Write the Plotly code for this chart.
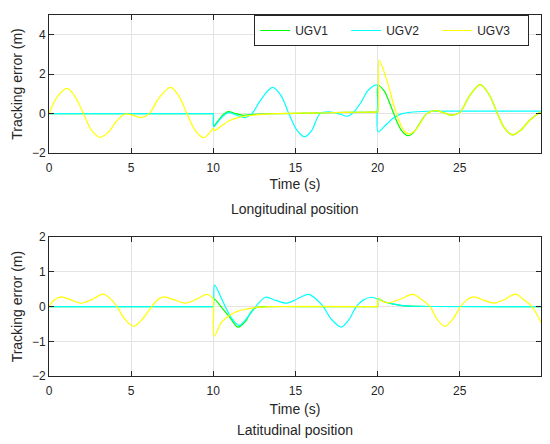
import plotly.graph_objects as go
from plotly.subplots import make_subplots

# --- longitudinal tracking error (top panel) ---
lon_t_ugv1 = [0, 5, 9.95, 10.0, 10.03, 10.3, 10.6, 10.9, 11.3, 11.8, 12.3, 12.8, 14, 16, 18,
              19.9, 20.0, 20.03, 20.4, 20.8, 21.2, 21.5, 21.85, 22.2, 22.6, 23.0, 23.55, 24.0,
              24.5, 25.0, 25.6, 26.25, 26.8, 27.3, 27.7, 28.2, 28.7, 29.3, 29.95]
lon_e_ugv1 = [0, 0, 0, 0, -0.62, -0.35, -0.05, 0.1, 0.02, -0.08, -0.05, -0.02, 0.0, 0.03, 0.06,
              0.08, 0.08, 1.42, 1.15, 0.4, -0.45, -0.9, -1.12, -0.95, -0.45, 0.0, 0.15, 0.05,
              -0.08, 0.05, 0.9, 1.47, 0.95, 0.0, -0.7, -1.08, -0.85, -0.3, 0.1]

lon_t_ugv2 = [0, 5, 9.95, 10.0, 10.03, 10.3, 10.6, 10.95, 11.4, 11.95, 12.4, 12.85, 13.6, 14.1,
              14.6, 15.1, 15.56, 16.0, 16.5, 17.2, 17.7, 18.2, 18.6, 19.0, 19.4, 19.9,
              20.0, 20.03, 20.5, 21.0, 21.5, 22.0, 23.0, 25.0, 29.95]
lon_e_ugv2 = [0, 0, 0, 0, -0.67, -0.4, -0.12, 0.05, -0.08, -0.2, 0.05, 0.65, 1.33, 0.95,
              0.0, -0.85, -1.17, -0.85, 0.0, 0.08, -0.02, -0.13, 0.12, 0.58, 1.15, 1.46,
              1.44, -0.92, -0.58, -0.2, 0.0, 0.07, 0.12, 0.13, 0.13]

lon_t_ugv3 = [0, 0.5, 1.1, 1.6, 2.1, 2.6, 3.1, 3.6, 4.1, 4.6, 5.0, 5.6, 6.1, 6.7, 7.4,
              7.9, 8.4, 8.9, 9.4, 9.8, 10.0, 10.08, 10.5, 11.0, 11.5, 12.0, 13.0, 14.0,
              16.0, 18.0, 19.9, 20.0, 20.1, 20.6, 21.0, 21.3, 21.6, 21.9, 22.3, 22.7, 23.0,
              23.55, 24.0, 24.5, 25.0, 25.6, 26.25, 26.8, 27.3, 27.7, 28.2, 28.7, 29.3,
              29.95]
lon_e_ugv3 = [0, 0.85, 1.28, 0.85, 0.0, -0.85, -1.2, -0.95, -0.4, -0.02, -0.05, -0.2, 0.0,
              0.8, 1.33, 0.9, 0.0, -0.85, -1.22, -0.95, -0.75, -0.85, -0.62, -0.35, -0.2,
              -0.12, -0.04, 0.0, 0.03, 0.06, 0.08, 0.08, 2.7, 1.6, 0.4, -0.35, -0.85, -1.03,
              -0.85, -0.35, 0.0, 0.15, 0.05, -0.08, 0.05, 0.9, 1.47, 0.95, 0.0, -0.7,
              -1.08, -0.85, -0.3, 0.1]

# --- latitudinal tracking error (bottom panel) ---
lat_t_ugv1 = [0, 5, 9.95, 10.0, 10.05, 10.5, 11.0, 11.5, 12.0, 12.3, 12.6, 13.5, 16, 19.95,
              20.0, 20.03, 20.4, 20.9, 21.5, 22.5, 29.95]
lat_e_ugv1 = [0, 0, 0, 0, 0.22, -0.02, -0.3, -0.59, -0.4, -0.15, -0.03, 0.0, 0.0, 0.0,
              0.0, 0.22, 0.14, 0.08, 0.03, 0.01, 0.0]

lat_t_ugv2 = [0, 5, 9.95, 10.0, 10.08, 10.56, 11.07, 11.57, 12.15, 12.58, 13.18, 13.8, 14.5,
              15.1, 15.8, 16.3, 16.7, 17.2, 17.8, 18.3, 18.7, 19.1, 19.6, 20.0, 20.4,
              20.9, 21.5, 22.5, 29.95]
lat_e_ugv2 = [0, 0, 0, 0, 0.62, 0.17, -0.3, -0.54, -0.27, 0.0, 0.27, 0.18, 0.1,
              0.22, 0.35, 0.2, 0.0, -0.37, -0.59, -0.35, 0.0, 0.18, 0.27, 0.22, 0.14,
              0.08, 0.03, 0.01, 0.0]

lat_t_ugv3 = [0, 0.35, 0.75, 1.3, 1.95, 2.6, 3.3, 3.8, 4.13, 4.6, 5.15, 5.7, 6.25, 6.55,
              7.0, 7.6, 8.3, 9.0, 9.6, 9.9, 10.0, 10.05, 10.5, 11.0, 11.5, 12.0, 12.6,
              13.5, 19.95, 20.0, 20.03, 20.3, 20.7, 21.4, 22.15, 22.7, 23.2, 23.6, 24.1, 24.6,
              25.05, 25.4, 25.85, 26.5, 27.1, 27.8, 28.4, 28.9, 29.4, 29.95]
lat_e_ugv3 = [0.02, 0.2, 0.28, 0.2, 0.1, 0.2, 0.36, 0.2, 0.0, -0.35, -0.57, -0.35, 0.0,
              0.17, 0.28, 0.2, 0.1, 0.22, 0.35, 0.28, 0.22, -0.85, -0.45, -0.25, -0.13,
              -0.07, -0.02, 0.0, 0.0, 0.0, 0.24, 0.15, 0.11, 0.22, 0.35, 0.2, 0.0, -0.35,
              -0.57, -0.35, 0.0, 0.18, 0.28, 0.18, 0.1, 0.22, 0.36, 0.2, 0.0, -0.45]

names = ["UGV1", "UGV2", "UGV3"]
colors = ["#00ff00", "#00ffff", "#ffff00"]

FONT = "Liberation Sans, Arial, sans-serif"
AXIS_CLR = "#262626"
GRID_CLR = "#e3e3e3"

fig = make_subplots(rows=2, cols=1)

lon = [(lon_t_ugv1, lon_e_ugv1), (lon_t_ugv2, lon_e_ugv2), (lon_t_ugv3, lon_e_ugv3)]
lat = [(lat_t_ugv1, lat_e_ugv1), (lat_t_ugv2, lat_e_ugv2), (lat_t_ugv3, lat_e_ugv3)]

for i, (t, e) in enumerate(lon):
    fig.add_trace(go.Scatter(x=t, y=e, mode="lines", name=names[i],
                             line=dict(color=colors[i], width=1.2, shape="spline",
                                       smoothing=0.9)),
                  row=1, col=1)
for i, (t, e) in enumerate(lat):
    fig.add_trace(go.Scatter(x=t, y=e, mode="lines", name=names[i], showlegend=False,
                             line=dict(color=colors[i], width=1.2, shape="spline",
                                       smoothing=0.9)),
                  row=2, col=1)

axis_style = dict(showline=True, linecolor=AXIS_CLR, linewidth=1, mirror="allticks",
                  ticks="inside", ticklen=5, tickcolor=AXIS_CLR, showgrid=True,
                  gridcolor=GRID_CLR, gridwidth=1, zeroline=False,
                  tickfont=dict(size=12, color=AXIS_CLR, family=FONT))

fig.update_xaxes(range=[0, 29.95], tickvals=[0, 5, 10, 15, 20, 25],
                 title=dict(text="Time (s)", font=dict(size=14, color=AXIS_CLR), standoff=4),
                 ticklabelstandoff=4, **axis_style)
fig.update_xaxes(title_standoff=6, row=2, col=1)
fig.update_yaxes(title=dict(text="Tracking error (m)", font=dict(size=14, color=AXIS_CLR),
                            standoff=6),
                 **axis_style)
fig.update_yaxes(range=[-2, 5], tickvals=[-2, 0, 2, 4], domain=[0.6175, 1.0], row=1, col=1)
fig.update_yaxes(range=[-2, 2], tickvals=[-2, -1, 0, 1, 2], domain=[0.0, 0.3844], row=2, col=1)

fig.add_annotation(text="Longitudinal position", xref="paper", yref="paper",
                   x=0.5, y=0.4617, showarrow=False, yanchor="middle",
                   font=dict(size=14, color=AXIS_CLR, family=FONT))
fig.add_annotation(text="Latitudinal position", xref="paper", yref="paper",
                   x=0.5, y=-0.150, showarrow=False, yanchor="middle",
                   font=dict(size=14, color=AXIS_CLR, family=FONT))

fig.update_layout(
    width=550, height=444,
    margin=dict(l=49, r=8, t=10, b=68),
    paper_bgcolor="white", plot_bgcolor="white",
    font=dict(family=FONT, color=AXIS_CLR),
    showlegend=True,
    legend=dict(orientation="h", x=0.976, y=1.0, xanchor="right", yanchor="top",
                bordercolor=AXIS_CLR, borderwidth=1, bgcolor="white",
                font=dict(size=12, color=AXIS_CLR, family=FONT),
                entrywidth=46, itemwidth=30),
)

# the page body has a default 8px margin; drop it so the figure sits at the window corner
fig.write_html("out.html", config={"displayModeBar": False},
               post_script="document.body.style.margin = '0';")
